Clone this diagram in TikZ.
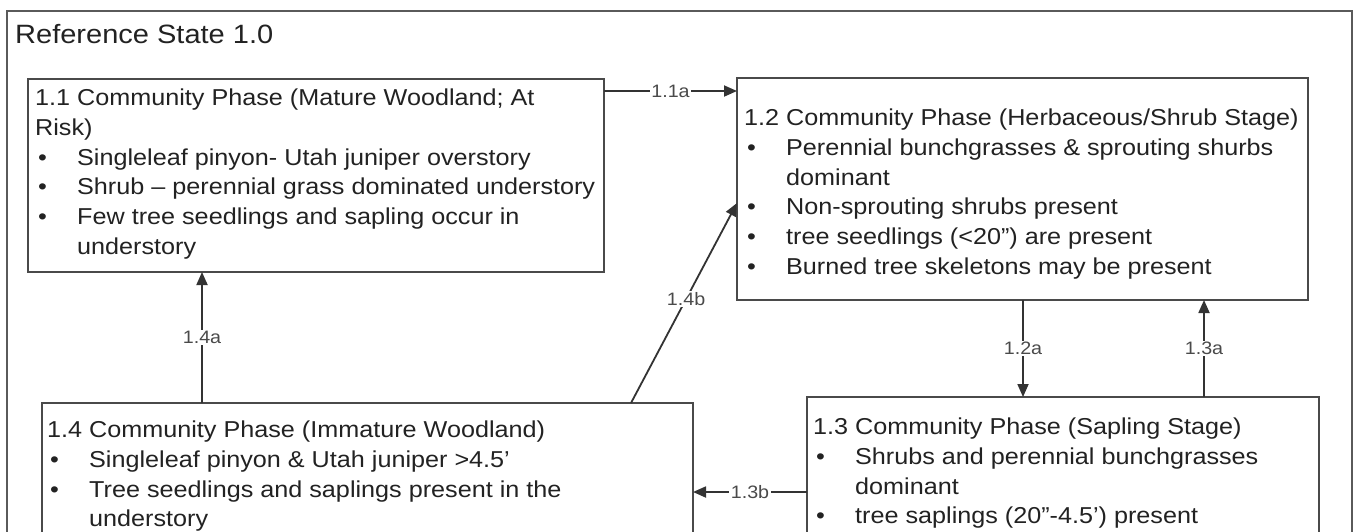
\documentclass[tikz,border=0pt]{standalone}
\usepackage{fontspec}
\setmainfont{Liberation Sans}[FakeStretch=1.095]
\usetikzlibrary{arrows.meta}
\definecolor{boxgray}{HTML}{4A4A4A}
\definecolor{framegray}{HTML}{5A5A5A}
\definecolor{lngray}{HTML}{333333}
\definecolor{txtc}{HTML}{222222}
\definecolor{lblc}{HTML}{4A4A4A}
\newcommand{\bl}[1]{\makebox[42pt][l]{\hspace{3pt}\textbullet}#1}
\newcommand{\cn}[1]{\hspace*{42pt}#1}
\begin{document}
\begin{tikzpicture}[x=1pt,y=-1pt,
  box/.style={draw=boxgray,line width=2.8pt,rectangle,inner sep=0pt,outer sep=0pt,anchor=north west},
  txt/.style={anchor=north west,inner sep=0pt,align=left,font=\fontsize{23}{29.7}\selectfont,text=txtc},
  conn/.style={draw=lngray,line width=1.8pt},
  arr/.style={conn,-{Triangle[length=13pt,width=11pt]}},
  lbl/.style={fill=white,inner sep=1.5pt,font=\fontsize{18}{20}\selectfont,text=lblc}]
\useasboundingbox (0,0) rectangle (1355,531);
\clip (0,0) rectangle (1355,531);
\fill[white] (0,0) rectangle (1355,531);
% frame
\node[draw=framegray,line width=2.2pt,minimum width=1345pt,minimum height=700pt,inner sep=0pt,outer sep=0pt,anchor=north west] (frame) at (7,11) {};
\node[anchor=base west,inner sep=0pt,font=\fontsize{26.5}{30}\selectfont,text=txtc] (title) at (15,43) {Reference State 1.0};
% boxes
\node[box,minimum width=576pt,minimum height=193pt] (b11) at (28,79) {};
\node[box,minimum width=571pt,minimum height=222pt] (b12) at (737,78) {};
\node[box,minimum width=651pt,minimum height=240pt] (b14) at (42,403) {};
\node[box,minimum width=512pt,minimum height=240pt] (b13) at (807,397) {};
% texts
\node[txt] (t11) at (35,89) {1.1 Community Phase (Mature Woodland; At\\Risk)\\\bl{Singleleaf pinyon- Utah juniper overstory}\\\bl{Shrub – perennial grass dominated understory}\\\bl{Few tree seedlings and sapling occur in}\\\cn{understory}};
\node[txt] (t12) at (744,109) {1.2 Community Phase (Herbaceous/Shrub Stage)\\\bl{Perennial bunchgrasses \& sprouting shurbs}\\\cn{dominant}\\\bl{Non-sprouting shrubs present}\\\bl{tree seedlings (<20") are present}\\\bl{Burned tree skeletons may be present}};
\node[txt] (t14) at (47,421) {1.4 Community Phase (Immature Woodland)\\\bl{Singleleaf pinyon \& Utah juniper >4.5'}\\\bl{Tree seedlings and saplings present in the}\\\cn{understory}};
\node[txt] (t13) at (813,418) {1.3 Community Phase (Sapling Stage)\\\bl{Shrubs and perennial bunchgrasses}\\\cn{dominant}\\\bl{tree saplings (20"-4.5') present}};
% connectors
\coordinate (s11a) at ([yshift=-12pt]b11.north east);
\draw[arr] (s11a) -- (s11a -| b12.west) node[lbl,midway] (l11a) {1.1a};
\coordinate (s14a) at ([xshift=160pt]b14.north west);
\draw[arr] (s14a) -- (s14a |- b11.south) node[lbl,midway] (l14a) {1.4a};
\coordinate (s14b) at ([xshift=-62pt]b14.north east);
\coordinate (e14b) at ([yshift=-125pt]b12.north west);
\draw[arr] (s14b) -- (e14b) node[lbl,pos=0.52] (l14b) {1.4b};
\coordinate (s12a) at ([xshift=286pt]b12.south west);
\draw[arr] (s12a) -- (s12a |- b13.north) node[lbl,midway] (l12a) {1.2a};
\coordinate (s13a) at ([xshift=397pt]b13.north west);
\draw[arr] (s13a) -- (s13a |- b12.south) node[lbl,midway] (l13a) {1.3a};
\coordinate (s13b) at ([yshift=-95pt]b13.north west);
\draw[arr] (s13b) -- (s13b -| b14.east) node[lbl,midway] (l13b) {1.3b};
\end{tikzpicture}
\end{document}
